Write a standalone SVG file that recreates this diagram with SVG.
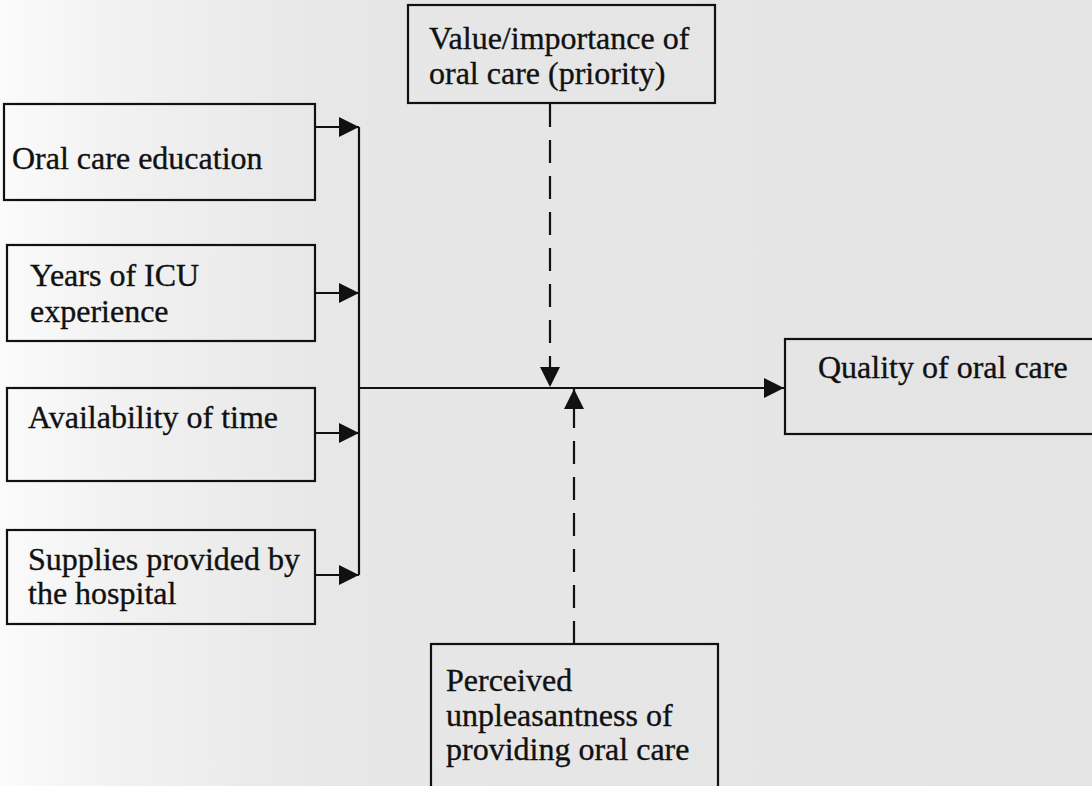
<svg xmlns="http://www.w3.org/2000/svg" width="1092" height="786" viewBox="0 0 1092 786">
  <defs>
    <linearGradient id="pageShade" x1="0" y1="0" x2="1" y2="0">
      <stop offset="0" stop-color="#fbfbfb"/>
      <stop offset="0.1" stop-color="#f2f2f2"/>
      <stop offset="0.3" stop-color="#e7e7e7"/>
      <stop offset="1" stop-color="#e4e4e4"/>
    </linearGradient>
    <marker id="arrow" viewBox="0 0 20 20" refX="20" refY="10" markerWidth="20" markerHeight="20" markerUnits="userSpaceOnUse" orient="auto">
      <path d="M0,0 L20,10 L0,20 Z" fill="#111"/>
    </marker>
    <style>
      .box { fill: none; stroke: #111; stroke-width: 2.2; }
      .lbl { font-family: "Liberation Serif", "Times New Roman", serif; font-size: 32px; fill: #111; stroke: #111; stroke-width: 0.35; }
      .line { fill: none; stroke: #111; stroke-width: 2.2; }
      .arr { fill: none; stroke: #111; stroke-width: 2.2; marker-end: url(#arrow); }
      .dash { fill: none; stroke: #111; stroke-width: 2.2; stroke-dasharray: 23 13; marker-end: url(#arrow); }
    </style>
  </defs>
  <rect x="0" y="0" width="1092" height="786" fill="url(#pageShade)"/>

  <g id="connectors">
    <line class="arr" x1="315" y1="127" x2="359" y2="127"/>
    <line class="arr" x1="315" y1="293" x2="359" y2="293"/>
    <line class="arr" x1="315" y1="433" x2="359" y2="433"/>
    <line class="arr" x1="315" y1="575" x2="359" y2="575"/>
    <line class="line" x1="359" y1="127" x2="359" y2="575"/>
    <line class="arr" x1="359" y1="388" x2="784" y2="388"/>
    <line class="dash" x1="550" y1="104" x2="550" y2="387"/>
    <line class="dash" x1="574" y1="644" x2="574" y2="389"/>
  </g>

  <g id="node-value">
    <rect class="box" x="408" y="5" width="307" height="98"/>
    <text class="lbl" x="429" y="49">Value/importance of</text>
    <text class="lbl" x="429" y="84">oral care (priority)</text>
  </g>
  <g id="node-education">
    <rect class="box" x="4" y="104" width="311" height="96"/>
    <text class="lbl" x="12" y="169">Oral care education</text>
  </g>
  <g id="node-experience">
    <rect class="box" x="7" y="245" width="308" height="96"/>
    <text class="lbl" x="30" y="286">Years of ICU</text>
    <text class="lbl" x="30" y="322">experience</text>
  </g>
  <g id="node-time">
    <rect class="box" x="7" y="388" width="308" height="93"/>
    <text class="lbl" x="28" y="428">Availability of time</text>
  </g>
  <g id="node-supplies">
    <rect class="box" x="7" y="530" width="308" height="94"/>
    <text class="lbl" x="28" y="570">Supplies provided by</text>
    <text class="lbl" x="28" y="604">the hospital</text>
  </g>
  <g id="node-quality">
    <rect class="box" x="785" y="339" width="330" height="95"/>
    <text class="lbl" x="818" y="378">Quality of oral care</text>
  </g>
  <g id="node-unpleasant">
    <rect class="box" x="431" y="644" width="287" height="160"/>
    <text class="lbl" x="446" y="691">Perceived</text>
    <text class="lbl" x="446" y="726">unpleasantness of</text>
    <text class="lbl" x="446" y="760">providing oral care</text>
  </g>
</svg>
